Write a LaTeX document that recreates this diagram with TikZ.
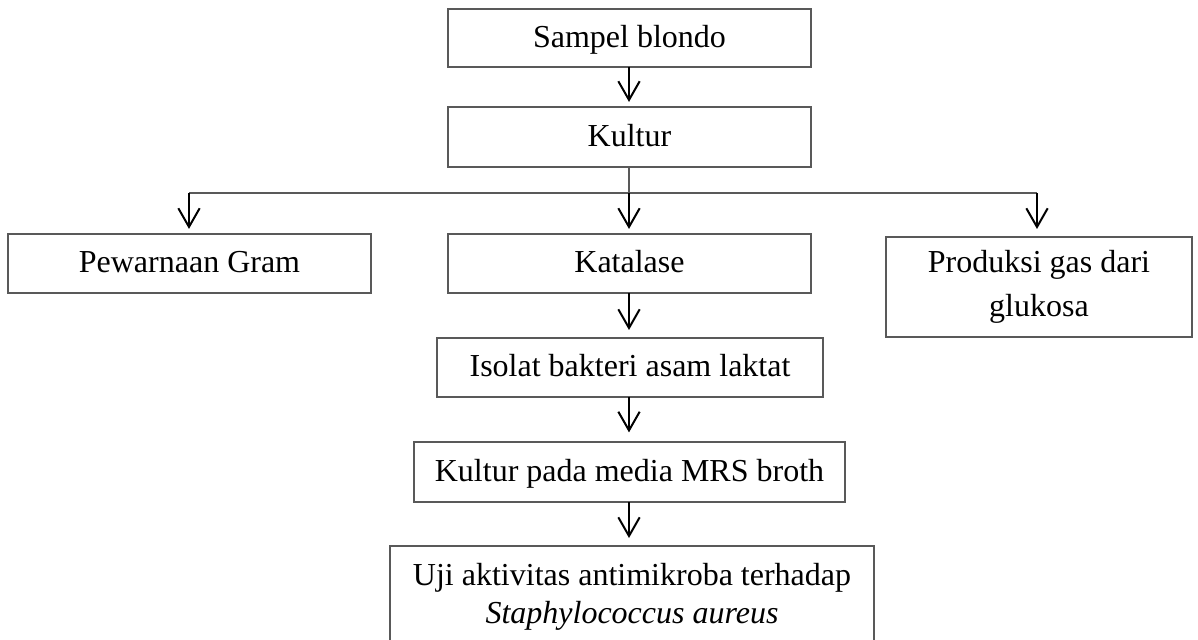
\documentclass[tikz,border=0pt]{standalone}
\usepackage{fontspec}
\setmainfont{Liberation Serif}
\usetikzlibrary{arrows.meta}
\tikzset{
  box/.style={draw=black!65, line width=0.45pt, inner sep=0pt, outer sep=0pt, align=center, font=\fontsize{12pt}{14pt}\selectfont},
  one/.style={text height=9.5pt, text depth=2.7pt},
  arr/.style={draw=black, line width=0.75pt, -{Straight Barb[length=7pt,width=8pt,line width=0.75pt]}, shorten >=1.9pt},
  conn/.style={draw=black!65, line width=0.45pt}
}
\begin{document}
\begin{tikzpicture}[x=0.375pt,y=-0.375pt]
\useasboundingbox (0,0) rectangle (1198,640);
\clip (0,0) rectangle (1198,640);
\fill[white] (0,0) rectangle (1198,640);
\node[box, one, minimum width=136.125pt, minimum height=21.75pt] (sampel) at (629.5,38) {Sampel blondo};
\node[box, one, minimum width=136.125pt, minimum height=22.5pt] (kultur) at (629.5,137) {Kultur};
\node[box, one, minimum width=136.125pt, minimum height=22.125pt] (gram) at (189.5,263.5) {Pewarnaan Gram};
\node[box, one, minimum width=136.125pt, minimum height=22.125pt] (katalase) at (629.5,263.5) {Katalase};
\node[box, minimum width=114.75pt, minimum height=37.5pt, font=\fontsize{12pt}{16.5pt}\selectfont] (prod) at (1039,287) {Produksi gas dari\\glukosa};
\node[box, one, minimum width=144.75pt, minimum height=22.125pt] (isolat) at (630,367.5) {Isolat bakteri asam laktat};
\node[box, one, minimum width=161.625pt, minimum height=22.5pt] (mrs) at (629.5,472) {Kultur pada media MRS broth};
\node[box, minimum width=181.5pt, minimum height=38.25pt, font=\fontsize{12pt}{14.25pt}\selectfont] (uji) at (632,597) {Uji aktivitas antimikroba terhadap\\\textit{Staphylococcus aureus}};
\coordinate (split) at (629,193);
\draw[arr] (sampel.south -| split) -- (split |- kultur.north);
\draw[conn] (kultur.south -| split) -- (split);
\draw[conn] (189,193) coordinate (gl) -- (1037,193) coordinate (pr);
\draw[arr] (gl) -- (gl |- gram.north);
\draw[arr] (split) -- (split |- katalase.north);
\draw[arr, shorten >=3pt] (pr) -- (pr |- prod.north);
\draw[arr, shorten >=3pt] (katalase.south -| split) -- (split |- isolat.north);
\draw[arr, shorten >=3.6pt] (isolat.south -| split) -- (split |- mrs.north);
\draw[arr, shorten >=3pt] (mrs.south -| split) -- (split |- uji.north);
\end{tikzpicture}
\end{document}
